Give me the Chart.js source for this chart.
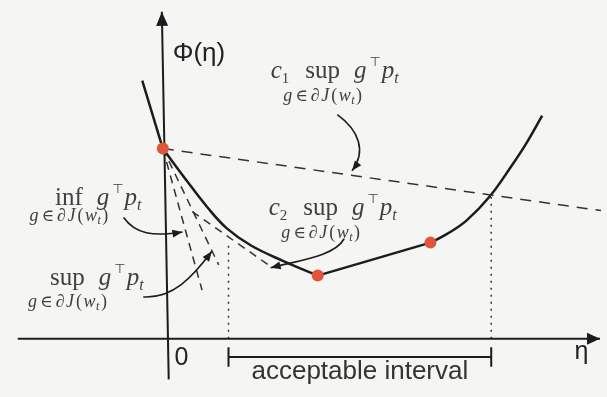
<!DOCTYPE html>
<html>
<head>
<meta charset="utf-8">
<script src="https://cdn.jsdelivr.net/npm/chart.js@4"></script>
<style>
  html, body { margin: 0; padding: 0; background: #f5f5f3; }
  canvas { display: block; }
</style>
</head>
<body>
<canvas id="chart" width="607" height="397"></canvas>
<script>
// visible window in (eta, phi) units
const etaMin = -1.60, etaMax = 4.47;
const phiMin = -0.54, phiMax = 3.43;

// phi(eta): steep branch left of 0, smooth descent, flat piece, rise
const upperEta = [-0.21, 0];
const upperPhi = [2.66, 1.96];
const descentEta = [0, 0.25, 0.45, 0.65, 0.90, 1.23, 1.58];
const descentPhi = [1.96, 1.62, 1.36, 1.14, 0.96, 0.80, 0.65];
const flatEta = [1.58, 2.73];
const flatPhi = [0.65, 0.99];
const riseEta = [2.73, 2.90, 3.10, 3.33, 3.55, 3.70, 3.87];
const risePhi = [0.99, 1.08, 1.22, 1.46, 1.77, 2.00, 2.30];

// kinks of phi
const kinkEta = [0, 1.58, 2.73];
const kinkPhi = [1.96, 0.65, 0.99];

// slope lines through phi(0)
const c1Eta = [0, 4.47], c1Phi = [1.96, 1.32];
const infEta = [0, 0.40], infPhi = [1.96, 0.50];
const supEta = [0, 0.57], supPhi = [1.96, 0.76];
const c2Eta = [0.30, 1.12], c2Phi = [1.31, 0.73];

// acceptable interval
const intervalEta = [0.67, 3.35];
const intervalTop = [0.98, 1.46];
const bracketPhi = -0.19, bracketTick = 0.10;

// axes
const xAxisEta = [-1.48, 4.46];
const yAxisEta = [0.06, -0.01], yAxisPhi = [-0.42, 3.37];

const pts = (xs, ys) => xs.map((v, i) => ({ x: v, y: ys[i] }));

const INK = "#1c1c1c";
const DOT = "#e0553a";
const SERIF = '"Liberation Serif", "DejaVu Serif", serif';
const SANS = '"Liberation Sans", Arial, sans-serif';

function line(data, extra) {
  return Object.assign({
    data: data,
    borderColor: INK,
    borderWidth: 2.2,
    pointRadius: 0,
    fill: false,
    tension: 0,
    order: 2,
  }, extra || {});
}

// draws a list of text runs side by side, returns x-range of each run
function drawRuns(ctx, x0, base, runs) {
  let x = x0;
  const spans = [];
  runs.forEach((r) => {
    ctx.font = r.f;
    ctx.fillText(r.t, x, base + (r.dy || 0));
    const w = ctx.measureText(r.t).width;
    spans.push([x, x + w]);
    x += w + (r.gap || 0);
  });
  return spans;
}

function expr(ctx, x0, base, coef, op, subDrop) {
  const runs = [];
  if (coef) {
    runs.push({ t: "c", f: "italic 25px " + SERIF });
    runs.push({ t: coef, f: "15px " + SERIF, dy: 5, gap: 16 });
  }
  const opIndex = runs.length;
  runs.push({ t: op, f: "25px " + SERIF, gap: 14 });
  runs.push({ t: "g", f: "italic 25px " + SERIF, gap: 3 });
  runs.push({ t: "⊤", f: "13px 'DejaVu Sans'", dy: -12, gap: 1 });
  runs.push({ t: "p", f: "italic 25px " + SERIF });
  runs.push({ t: "t", f: "italic 16px " + SERIF, dy: 5 });
  const spans = drawRuns(ctx, x0, base, runs);
  const mid = (spans[opIndex][0] + spans[opIndex][1]) / 2;

  const it = "italic 18px " + SERIF;
  const sub = [
    { t: "g", f: it, gap: 3 },
    { t: "∈", f: "17px 'DejaVu Serif'", gap: 3 },
    { t: "∂", f: it, gap: 1.5 },
    { t: "J", f: it, gap: 2 },
    { t: "(", f: "18px " + SERIF, gap: 1.5 },
    { t: "w", f: it, gap: 0.5 },
    { t: "t", f: "italic 12px " + SERIF, dy: 3, gap: 1.5 },
    { t: ")", f: "18px " + SERIF },
  ];
  let w = 0;
  sub.forEach((r) => { ctx.font = r.f; w += ctx.measureText(r.t).width + (r.gap || 0); });
  drawRuns(ctx, mid - w / 2, base + subDrop, sub);
}

function arrowHead(ctx, tx, ty, fx, fy, len, half) {
  const a = Math.atan2(ty - fy, tx - fx);
  ctx.beginPath();
  ctx.moveTo(tx, ty);
  ctx.lineTo(tx - len * Math.cos(a) + half * Math.sin(a), ty - len * Math.sin(a) - half * Math.cos(a));
  ctx.lineTo(tx - len * Math.cos(a) - half * Math.sin(a), ty - len * Math.sin(a) + half * Math.cos(a));
  ctx.closePath();
  ctx.fill();
}

// curved pointers from the labels to the lines: start, two controls, tip
const pointers = [
  [[1.78, 2.31], [2.00, 2.15], [2.08, 1.93], [1.93, 1.73]],
  [[-0.40, 1.25], [-0.28, 1.08], [-0.10, 1.05], [0.20, 1.10]],
  [[-0.20, 0.43], [0.10, 0.41], [0.30, 0.63], [0.50, 0.90]],
  [[1.85, 1.03], [1.75, 0.85], [1.40, 0.81], [1.10, 0.73]],
];

const sketch = {
  id: "sketch",
  beforeDraw(chart) {
    const ctx = chart.ctx;
    ctx.save();
    ctx.fillStyle = "#f5f5f3";
    ctx.fillRect(0, 0, chart.width, chart.height);
    ctx.restore();
  },
  afterDatasetsDraw(chart) {
    const ctx = chart.ctx;
    const X = (v) => chart.scales.x.getPixelForValue(v);
    const Y = (v) => chart.scales.y.getPixelForValue(v);
    ctx.save();
    ctx.fillStyle = INK;
    ctx.strokeStyle = INK;

    // axis arrowheads
    arrowHead(ctx, X(xAxisEta[1]), Y(0), X(xAxisEta[0]), Y(0), 13, 6);
    arrowHead(ctx, X(yAxisEta[1]), Y(yAxisPhi[1]), X(yAxisEta[0]), Y(yAxisPhi[0]), 14, 6);

    // pointers
    ctx.lineWidth = 1.6;
    pointers.forEach((p) => {
      ctx.beginPath();
      ctx.moveTo(X(p[0][0]), Y(p[0][1]));
      ctx.bezierCurveTo(X(p[1][0]), Y(p[1][1]), X(p[2][0]), Y(p[2][1]), X(p[3][0]), Y(p[3][1]));
      ctx.stroke();
      arrowHead(ctx, X(p[3][0]), Y(p[3][1]), X(p[2][0]), Y(p[2][1]), 10, 4);
    });

    // math labels
    ctx.fillStyle = "#404040";
    ctx.textBaseline = "alphabetic";
    expr(ctx, X(1.10), Y(2.69), "1", "sup", 23);
    expr(ctx, X(1.08), Y(1.28), "2", "sup", 23);
    expr(ctx, X(-1.10), Y(1.38), "", "inf", 16);
    expr(ctx, X(-1.15), Y(0.55), "", "sup", 22);

    // axis labels
    ctx.fillStyle = "#222";
    ctx.font = "26px " + SANS;
    ctx.fillText("Φ(η)", X(0.10), Y(2.86));
    ctx.font = "25px " + SANS;
    ctx.fillText("0", X(0.12), Y(-0.27));
    ctx.fillText("η", X(4.20), Y(-0.21));
    ctx.fillStyle = "#333";
    ctx.font = "26px " + SANS;
    ctx.textAlign = "center";
    ctx.fillText("acceptable interval", X((intervalEta[0] + intervalEta[1]) / 2), Y(-0.42));
    ctx.restore();
  },
};

const dashed = { borderColor: "#333", borderWidth: 1.5, borderDash: [11, 8] };
const shortDash = { borderColor: "#333", borderWidth: 1.5, borderDash: [8, 6] };
const dotted = { borderColor: "#333", borderWidth: 1.5, borderDash: [2, 5] };

new Chart(document.getElementById("chart"), {
  type: "line",
  data: {
    datasets: [
      line(pts(xAxisEta, [0, 0]), { borderWidth: 2 }),
      line(pts(yAxisEta, yAxisPhi), { borderWidth: 2 }),
      line(pts(c1Eta, c1Phi), dashed),
      line(pts(infEta, infPhi), shortDash),
      line(pts(supEta, supPhi), shortDash),
      line(pts(c2Eta, c2Phi), shortDash),
      line(pts([intervalEta[0], intervalEta[0]], [0, intervalTop[0]]), dotted),
      line(pts([intervalEta[1], intervalEta[1]], [0, intervalTop[1]]), dotted),
      line(pts(intervalEta, [bracketPhi, bracketPhi]), { borderWidth: 2 }),
      line(pts([intervalEta[0], intervalEta[0]], [bracketPhi + bracketTick, bracketPhi - bracketTick]), { borderWidth: 2 }),
      line(pts([intervalEta[1], intervalEta[1]], [bracketPhi + bracketTick, bracketPhi - bracketTick]), { borderWidth: 2 }),
      line(pts(upperEta, upperPhi), { borderWidth: 2.5 }),
      line(pts(descentEta, descentPhi), { borderWidth: 2.5, tension: 0.4 }),
      line(pts(flatEta, flatPhi), { borderWidth: 2.5 }),
      line(pts(riseEta, risePhi), { borderWidth: 2.5, tension: 0.4 }),
      {
        data: pts(kinkEta, kinkPhi),
        showLine: false,
        pointRadius: 6,
        pointBackgroundColor: DOT,
        pointBorderWidth: 0,
        order: 0,
      },
    ],
  },
  options: {
    responsive: false,
    animation: false,
    devicePixelRatio: 1,
    layout: { padding: 0 },
    plugins: { legend: { display: false }, tooltip: { enabled: false } },
    scales: {
      x: { type: "linear", min: etaMin, max: etaMax, display: false },
      y: { type: "linear", min: phiMin, max: phiMax, display: false },
    },
  },
  plugins: [sketch],
});
</script>
</body>
</html>
